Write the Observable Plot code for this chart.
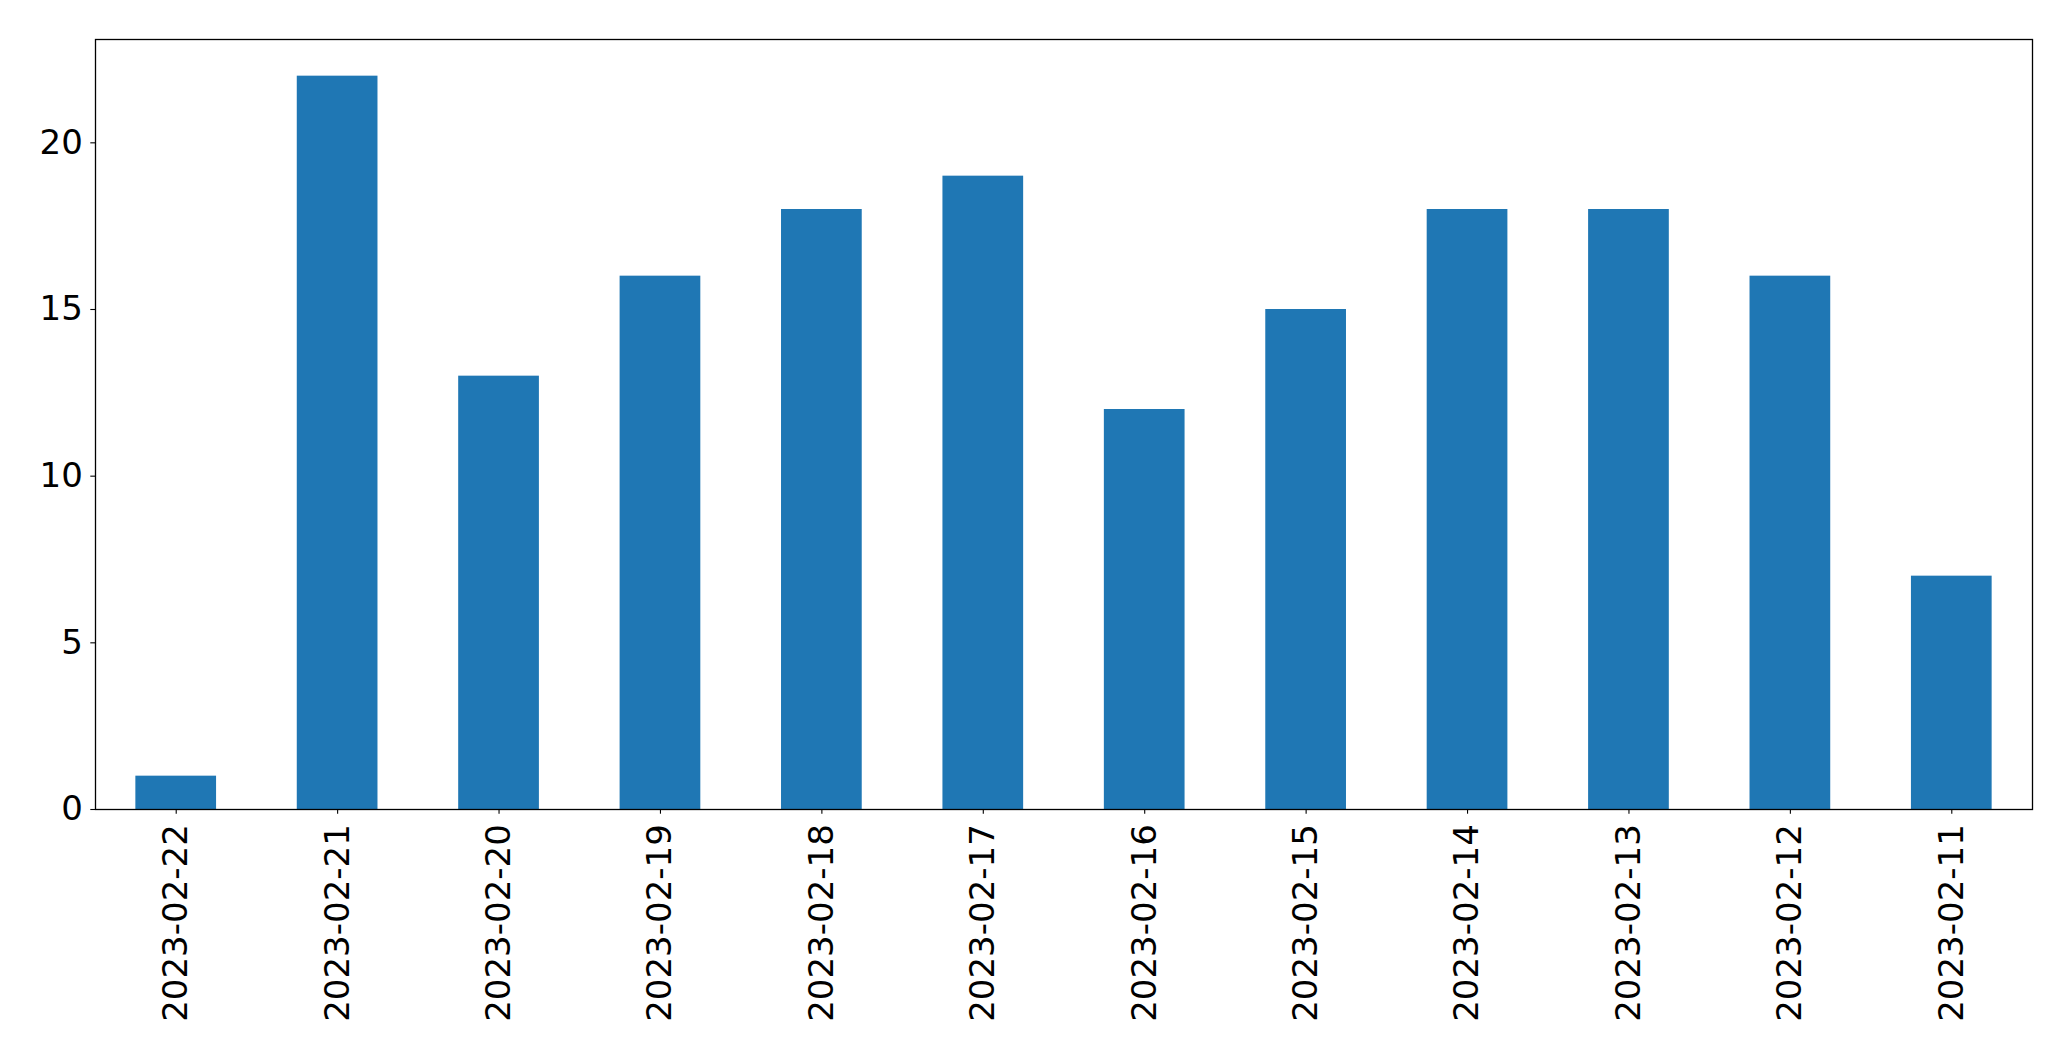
<!DOCTYPE html>
<html>
<head>
<meta charset="utf-8">
<script src="https://cdn.jsdelivr.net/npm/d3@7"></script>
<script src="https://cdn.jsdelivr.net/npm/@observablehq/plot@0.6"></script>
<style>
  html, body { margin: 0; padding: 0; background: #fff; }
</style>
</head>
<body>
<div id="chart"></div>
<script>
const dates = ["2023-02-22","2023-02-21","2023-02-20","2023-02-19","2023-02-18","2023-02-17","2023-02-16","2023-02-15","2023-02-14","2023-02-13","2023-02-12","2023-02-11"];
const counts = [1,22,13,16,18,19,12,15,18,18,16,7];
const yTicks = [0,5,10,15,20];

const data = dates.map((d, i) => ({date: d, count: counts[i]}));

const chart = Plot.plot({
  width: 2071,
  height: 1061,
  marginLeft: 95,
  marginRight: 39,
  marginTop: 39,
  marginBottom: 252,
  style: {fontFamily: "DejaVu Sans", fontSize: "34px", color: "#000", background: "#fff"},
  x: {type: "band", domain: dates, paddingInner: 0.5, paddingOuter: 0.25, align: 0.5, round: false},
  y: {domain: [0, 23.1]},
  marks: [
    Plot.barY(data, {x: "date", y: "count", fill: "#1f77b4"}),
    Plot.axisY({ticks: yTicks, tickSize: 4.7, tickPadding: 8, label: null, strokeWidth: 1.1, fontSize: 34}),
    Plot.axisX({tickSize: 4.7, tickPadding: 10, tickRotate: -90, label: null, strokeWidth: 1.1, fontSize: 34}),
    Plot.frame({stroke: "#000", strokeWidth: 1.3})
  ]
});
document.getElementById("chart").appendChild(chart);
</script>
</body>
</html>
